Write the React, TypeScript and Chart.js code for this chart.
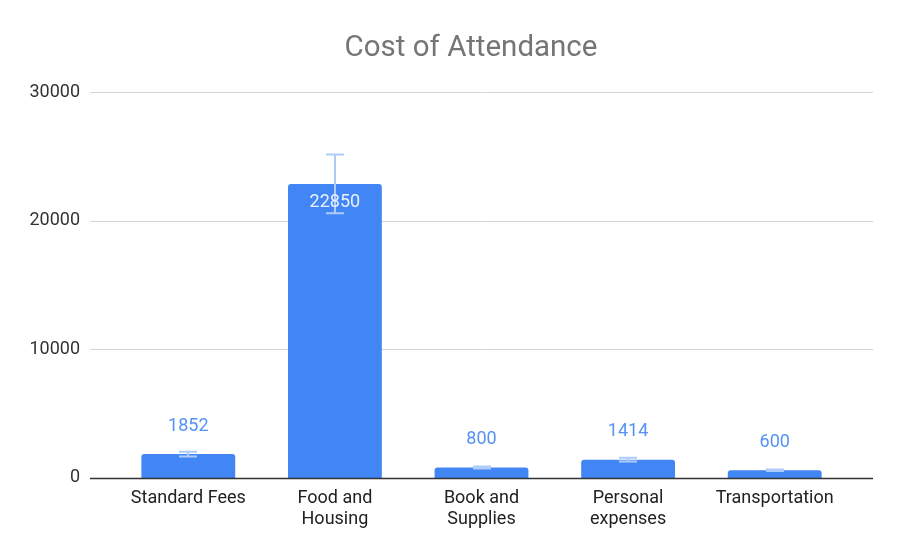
import React, { useEffect, useRef } from "react";
import { Chart, registerables } from "chart.js";

Chart.register(...registerables);

// Categories (multi-line labels are arrays of lines)
const CATEGORIES: (string | string[])[] = [
  "Standard Fees",
  ["Food and", "Housing"],
  ["Book and", "Supplies"],
  ["Personal", "expenses"],
  "Transportation",
];
// Cost per category, in dollars
const COSTS = [1852, 22850, 800, 1414, 600];
// Y axis tick values
const Y_TICKS = [0, 10000, 20000, 30000];
// Error bars: percent of each value, above and below
const ERROR_PERCENT = 10;

const TITLE = "Cost of Attendance";
const FONT = "Roboto, 'Noto Sans', Arial, sans-serif";
const BAR_BLUE = "#4285f4";
const ERROR_BLUE = "#aecbfa";
const LABEL_BLUE = "#5592f5";
const LABEL_INSIDE = "#eaf1fe";
const GRID_GRAY = "#d4d4d4";
const GRID_OVERHANG = 25;

const decorPlugin = {
  id: "decor",
  beforeDatasetsDraw(chart: any) {
    const { ctx, chartArea } = chart;
    const y = chart.scales.y;
    ctx.save();
    ctx.strokeStyle = GRID_GRAY;
    ctx.lineWidth = 1;
    for (const t of y.ticks) {
      if (t.value === 0) continue;
      const py = Math.round(y.getPixelForValue(t.value)) + 0.5;
      ctx.beginPath();
      ctx.moveTo(chartArea.left - GRID_OVERHANG, py);
      ctx.lineTo(chartArea.right + GRID_OVERHANG, py);
      ctx.stroke();
    }
    ctx.restore();
  },
  afterDatasetsDraw(chart: any) {
    const { ctx, chartArea } = chart;
    const y = chart.scales.y;
    const meta = chart.getDatasetMeta(0);
    const data = chart.data.datasets[0].data as number[];
    const p = ERROR_PERCENT / 100;

    // error bars
    ctx.save();
    ctx.strokeStyle = ERROR_BLUE;
    ctx.lineWidth = 2;
    meta.data.forEach((el: any, i: number) => {
      const v = data[i];
      const x = Math.round(el.x);
      const hi = y.getPixelForValue(v * (1 + p));
      const lo = y.getPixelForValue(v * (1 - p));
      ctx.beginPath();
      ctx.moveTo(x, hi);
      ctx.lineTo(x, lo);
      ctx.moveTo(x - 9, hi);
      ctx.lineTo(x + 9, hi);
      ctx.moveTo(x - 9, lo);
      ctx.lineTo(x + 9, lo);
      ctx.stroke();
    });
    ctx.restore();

    // baseline
    ctx.save();
    const py0 = Math.round(y.getPixelForValue(0)) + 0.5;
    ctx.strokeStyle = "#333333";
    ctx.lineWidth = 1.5;
    ctx.beginPath();
    ctx.moveTo(chartArea.left - GRID_OVERHANG, py0);
    ctx.lineTo(chartArea.right + GRID_OVERHANG, py0);
    ctx.stroke();
    ctx.restore();

    // value labels
    ctx.save();
    ctx.font = `18px ${FONT}`;
    ctx.textAlign = "center";
    ctx.textBaseline = "middle";
    meta.data.forEach((el: any, i: number) => {
      const v = data[i];
      const top = el.y;
      const height = el.base - el.y;
      if (height > 100) {
        ctx.fillStyle = LABEL_INSIDE;
        ctx.fillText(String(v), el.x, top + 19);
      } else {
        ctx.fillStyle = LABEL_BLUE;
        ctx.fillText(String(v), el.x, top - 28);
      }
    });
    ctx.restore();
  },
  afterDraw(chart: any) {
    const { ctx } = chart;
    ctx.save();
    ctx.font = `29.5px ${FONT}`;
    ctx.fillStyle = "#757575";
    ctx.textAlign = "center";
    ctx.textBaseline = "alphabetic";
    ctx.fillText(TITLE, chart.width / 2 + 21, 56);
    ctx.restore();
  },
};

export default function App() {
  const canvasRef = useRef<HTMLCanvasElement | null>(null);

  useEffect(() => {
    if (!canvasRef.current) return;
    const chart = new Chart(canvasRef.current, {
      type: "bar",
      data: {
        labels: CATEGORIES,
        datasets: [
          {
            data: COSTS,
            backgroundColor: BAR_BLUE,
            borderRadius: 3,
            borderSkipped: "start",
            categoryPercentage: 1,
            barPercentage: 0.64,
          },
        ],
      },
      plugins: [decorPlugin],
      options: {
        responsive: false,
        animation: false,
        layout: { padding: { left: 0, right: 52, top: 92, bottom: 17 } },
        plugins: {
          legend: { display: false },
          tooltip: { enabled: false },
          title: { display: false },
        },
        scales: {
          x: {
            grid: { display: false, drawTicks: false },
            border: { display: false },
            ticks: {
              color: "#222222",
              font: { family: FONT, size: 18, lineHeight: 1.17 },
              padding: 10,
              maxRotation: 0,
              autoSkip: false,
            },
          },
          y: {
            min: 0,
            max: 30000,
            afterBuildTicks: (s: any) => {
              s.ticks = Y_TICKS.map((v) => ({ value: v }));
            },
            afterFit: (s: any) => {
              s.width = 115;
            },
            grid: { display: false, drawTicks: false },
            border: { display: false },
            ticks: {
              color: "#333333",
              font: { family: FONT, size: 18 },
              padding: 35,
              callback: (v: any) => String(v),
            },
          },
        },
      },
    });
    return () => chart.destroy();
  }, []);

  return (
    <div style={{ position: "absolute", left: 0, top: 0, width: 900, height: 557, background: "#ffffff" }}>
      <canvas ref={canvasRef} width={900} height={557} />
    </div>
  );
}
